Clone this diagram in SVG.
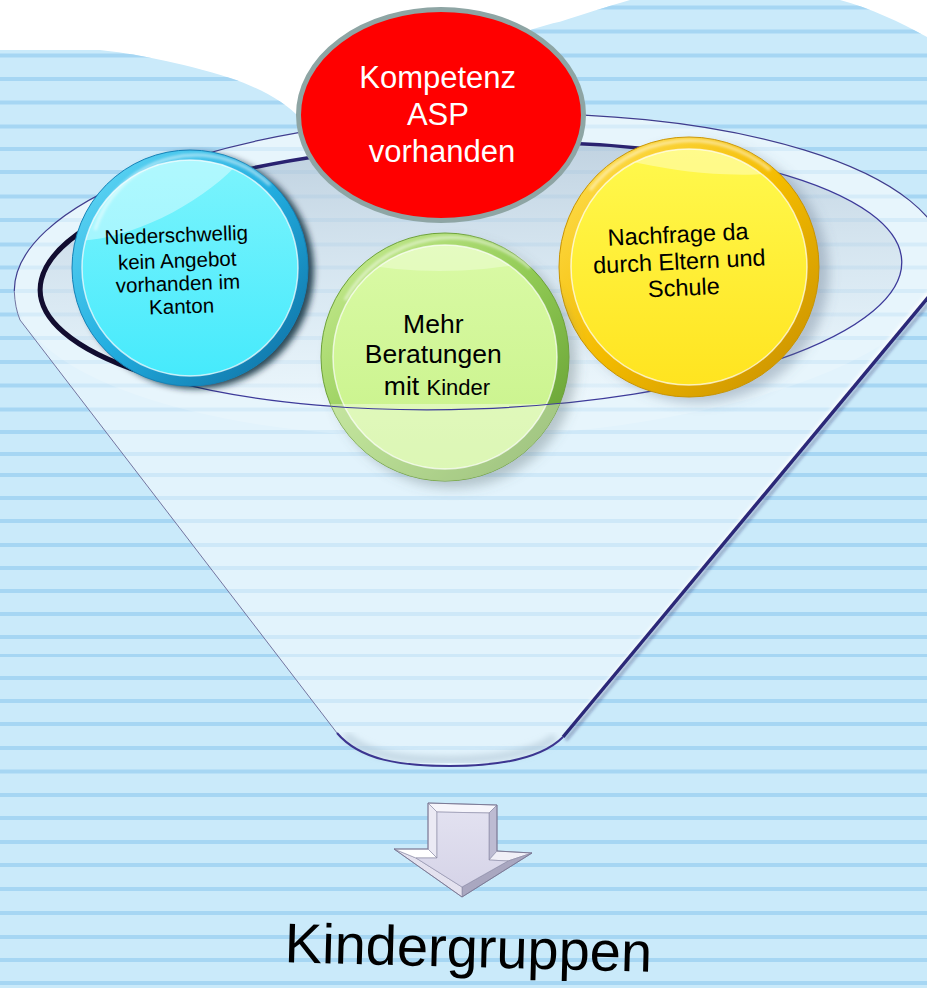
<svg xmlns="http://www.w3.org/2000/svg" width="927" height="988" viewBox="0 0 927 988">
<style>
  .stripe { fill: #a6d6f3; }
  .lbl { font-family: "Liberation Sans", Arial, sans-serif; text-anchor: middle; fill: #000; }
  .white { fill: #fff; }
  .gloss { fill: #fff; }
</style>
<defs>
  <clipPath id="sky">
    <path d="M0,50 L100,50 C130,53 180,62 230,78 C260,88 285,102 300,118 L480,118 L505,40 C520,33 540,26 560,21.7 C585,14 605,7 630,0 L840,0 C870,8 900,22 927,37 L927,988 L0,988 Z"/>
  </clipPath>
  <filter id="soft" x="-20%" y="-20%" width="140%" height="140%"><feGaussianBlur stdDeviation="3"/></filter>
  <filter id="soft6" x="-20%" y="-20%" width="140%" height="140%"><feGaussianBlur stdDeviation="6"/></filter>
  <filter id="soft2" x="-10%" y="-10%" width="120%" height="120%"><feGaussianBlur stdDeviation="1.5"/></filter>
  <filter id="soft3" x="-10%" y="-10%" width="120%" height="120%"><feGaussianBlur stdDeviation="3"/></filter>

  <linearGradient id="innerFill" x1="0" y1="0" x2="0" y2="1">
    <stop offset="0" stop-color="#8fa6be" stop-opacity="0.45"/>
    <stop offset="0.6" stop-color="#b8cadb" stop-opacity="0.25"/>
    <stop offset="1" stop-color="#ffffff" stop-opacity="0.25"/>
  </linearGradient>

  <linearGradient id="ringCyan" x1="0" y1="0" x2="1" y2="1">
    <stop offset="0" stop-color="#6adcf7"/>
    <stop offset="0.5" stop-color="#22aee0"/>
    <stop offset="1" stop-color="#0c6a9e"/>
  </linearGradient>
  <linearGradient id="faceCyan" x1="0" y1="0" x2="0" y2="1">
    <stop offset="0" stop-color="#7cf4fd"/>
    <stop offset="1" stop-color="#46eafc"/>
  </linearGradient>

  <linearGradient id="ringYellow" x1="0" y1="0" x2="1" y2="1">
    <stop offset="0" stop-color="#ffe25a"/>
    <stop offset="0.5" stop-color="#f4bc00"/>
    <stop offset="1" stop-color="#c48c00"/>
  </linearGradient>
  <linearGradient id="faceYellow" x1="0" y1="0" x2="0" y2="1">
    <stop offset="0" stop-color="#fff94e"/>
    <stop offset="1" stop-color="#ffe420"/>
  </linearGradient>

  <linearGradient id="ringGreen" x1="0" y1="0" x2="1" y2="1">
    <stop offset="0" stop-color="#cdef98"/>
    <stop offset="0.5" stop-color="#92cb55"/>
    <stop offset="1" stop-color="#5c962c"/>
  </linearGradient>
  <linearGradient id="faceGreen" x1="0" y1="0" x2="0" y2="1">
    <stop offset="0" stop-color="#dafaa6"/>
    <stop offset="1" stop-color="#c7f288"/>
  </linearGradient>

  <linearGradient id="arrowFace" x1="0" y1="0" x2="0" y2="1">
    <stop offset="0" stop-color="#e2e1f0"/>
    <stop offset="1" stop-color="#d6d4e8"/>
  </linearGradient>

  <clipPath id="faceC"><circle cx="190" cy="268" r="108"/></clipPath>
  <clipPath id="faceY"><circle cx="689" cy="267" r="118"/></clipPath>
  <clipPath id="faceG"><circle cx="445" cy="357" r="112"/></clipPath>
  <clipPath id="ballG"><circle cx="445" cy="357" r="124"/></clipPath>
</defs>

<!-- striped backdrop -->
<rect width="927" height="988" fill="#fff"/>
<g id="backdrop" clip-path="url(#sky)">
  <rect width="927" height="988" fill="#caeafa"/>
  <g class="stripe">
    <rect x="0" y="5.5" width="927" height="4"/>
    <rect x="0" y="29.5" width="927" height="4"/>
    <rect x="0" y="53.5" width="927" height="4"/>
    <rect x="0" y="77" width="927" height="4"/>
    <rect x="0" y="100.5" width="927" height="4"/>
    <rect x="0" y="124.5" width="927" height="4"/>
    <rect x="0" y="147" width="927" height="4"/>
    <rect x="0" y="170" width="927" height="4"/>
    <rect x="0" y="194.5" width="927" height="4"/>
    <rect x="0" y="218" width="927" height="4"/>
    <rect x="0" y="242.5" width="927" height="4"/>
    <rect x="0" y="265.5" width="927" height="4"/>
    <rect x="0" y="289" width="927" height="4"/>
    <rect x="0" y="312.5" width="927" height="4"/>
    <rect x="0" y="336" width="927" height="4"/>
    <rect x="0" y="360" width="927" height="4"/>
    <rect x="0" y="383.5" width="927" height="4"/>
    <rect x="0" y="407.5" width="927" height="4"/>
    <rect x="0" y="430" width="927" height="4"/>
    <rect x="0" y="452" width="927" height="4"/>
    <rect x="0" y="473" width="927" height="4"/>
    <rect x="0" y="496" width="927" height="4"/>
    <rect x="0" y="519" width="927" height="4"/>
    <rect x="0" y="543" width="927" height="4"/>
    <rect x="0" y="566" width="927" height="4"/>
    <rect x="0" y="589" width="927" height="4"/>
    <rect x="0" y="612" width="927" height="4"/>
    <rect x="0" y="635" width="927" height="4"/>
    <rect x="0" y="654" width="927" height="3"/>
    <rect x="0" y="676" width="927" height="4"/>
    <rect x="0" y="699" width="927" height="4"/>
    <rect x="0" y="722" width="927" height="4"/>
    <rect x="0" y="746" width="927" height="4"/>
    <rect x="0" y="769.5" width="927" height="4"/>
    <rect x="0" y="793" width="927" height="4"/>
    <rect x="0" y="816" width="927" height="4"/>
    <rect x="0" y="840" width="927" height="4"/>
    <rect x="0" y="863" width="927" height="4"/>
    <rect x="0" y="887" width="927" height="4"/>
    <rect x="0" y="911" width="927" height="4"/>
    <rect x="0" y="935" width="927" height="4"/>
    <rect x="0" y="958" width="927" height="4"/>
    <rect x="0" y="981" width="927" height="4"/>
  </g>
</g>

<!-- funnel body, rim and inner opening -->
<g id="funnel">
  <path d="M14.3,291.3 A466,162 -2 0 1 945.7,258.7 L955,265 L563,737 C545,755 510,766 450,766 C400,766 360,760 337,733 L20,320 Q15,308 14.3,291.3 Z" fill="#fff" fill-opacity="0.45"/>
  <ellipse cx="480" cy="275" rx="466" ry="162" transform="rotate(-2 480 275)" fill="#fff" fill-opacity="0.18"/>
  <!-- inner shading near the base -->
  <path d="M345,735 C370,757 405,760 450,760 C505,760 540,750 555,737" fill="none" stroke="#9fb5c8" stroke-width="8" stroke-opacity="0.45" filter="url(#soft3)"/>
  <path d="M930,292 L575,722" fill="none" stroke="#fff" stroke-width="5" stroke-opacity="0.75" filter="url(#soft2)"/>
  <!-- outlines -->
  <path d="M14.3,291.3 A466,162 -2 0 1 945.7,258.7" fill="none" stroke="#3f3d8e" stroke-width="1.2"/>
  <path d="M14.3,291.3 Q15,308 20,320 L337,733" fill="none" stroke="#7375a0" stroke-width="1"/>
  <path d="M337,733 C360,760 400,766 450,766 C510,766 545,755 563,737" fill="none" stroke="#3c3590" stroke-width="2"/>
  <path d="M566,740 L958,268" fill="none" stroke="#1e1a5a" stroke-width="3" stroke-opacity="0.35" filter="url(#soft2)"/>
  <path d="M563,737 L955,265" fill="none" stroke="#2b2878" stroke-width="3.5"/>
  <!-- inner opening -->
  <g transform="rotate(-2 471 276)">
    <ellipse cx="471" cy="276" rx="431" ry="133" fill="url(#innerFill)" stroke="#3d3a9a" stroke-width="1.3"/>
    <path d="M97.7,342.5 A431,133 0 0 1 686.5,160.8" fill="none" stroke="#2a2270" stroke-width="3.5"/>
    <path d="M140.8,361.5 A431,133 0 0 1 193.9,174.1" fill="none" stroke="#120d30" stroke-width="5"/>
  </g>
</g>

<!-- Niederschwellig -->
<g id="node-niederschwellig">
  <circle cx="196" cy="271" r="118" fill="#06202e" fill-opacity="0.8" filter="url(#soft)"/>
  <circle cx="190" cy="268" r="118" fill="url(#ringCyan)" stroke="#1583b8" stroke-width="1"/>
  <circle cx="190" cy="268" r="108" fill="url(#faceCyan)"/>
  <g clip-path="url(#faceC)">
    <ellipse cx="150" cy="170" rx="120" ry="48" transform="rotate(-28 150 170)" class="gloss" fill-opacity="0.4"/>
  </g>
  <circle cx="190" cy="268" r="108" fill="none" stroke="#fff" stroke-opacity="0.7" stroke-width="1.5"/>
  <path d="M95,230 A106,106 0 0 1 270,185" fill="none" stroke="#fff" stroke-opacity="0.55" stroke-width="3" filter="url(#soft2)"/>
  <g transform="rotate(-2 180 275)">
    <text class="lbl" font-size="20.5">
      <tspan x="180.5" y="242">Niederschwellig</tspan>
      <tspan x="180.5" y="267.5">kein Angebot</tspan>
      <tspan x="180.5" y="290.5">vorhanden im</tspan>
      <tspan x="180.5" y="313.5">Kanton</tspan>
    </text>
  </g>
</g>

<!-- Nachfrage -->
<g id="node-nachfrage">
  <circle cx="699" cy="273" r="130" fill="#5a6a80" fill-opacity="0.35" filter="url(#soft6)"/>
  <circle cx="689" cy="267" r="130" fill="url(#ringYellow)" stroke="#c99400" stroke-width="1"/>
  <circle cx="689" cy="267" r="118" fill="url(#faceYellow)"/>
  <g clip-path="url(#faceY)">
    <ellipse cx="680" cy="140" rx="130" ry="30" transform="rotate(8 680 140)" class="gloss" fill-opacity="0.35"/>
  </g>
  <circle cx="689" cy="267" r="118" fill="none" stroke="#fff" stroke-opacity="0.7" stroke-width="1.5"/>
  <path d="M590,190 A125,125 0 0 1 770,170" fill="none" stroke="#fff" stroke-opacity="0.55" stroke-width="3" filter="url(#soft2)"/>
  <g transform="rotate(-2.7 683 270)">
    <text class="lbl" font-size="23.5">
      <tspan x="683" y="242.3">Nachfrage da</tspan>
      <tspan x="683" y="269.3">durch Eltern und</tspan>
      <tspan x="683" y="295.7">Schule</tspan>
    </text>
  </g>
</g>

<!-- Mehr Beratungen -->
<g id="node-beratungen">
  <circle cx="453" cy="364" r="124" fill="#5a6a70" fill-opacity="0.35" filter="url(#soft6)"/>
  <circle cx="445" cy="357" r="124" fill="url(#ringGreen)" stroke="#6ea23a" stroke-width="1"/>
  <circle cx="445" cy="357" r="112" fill="url(#faceGreen)"/>
  <g clip-path="url(#faceG)">
    <ellipse cx="440" cy="245" rx="115" ry="26" class="gloss" fill-opacity="0.3"/>
  </g>
  <circle cx="445" cy="357" r="112" fill="none" stroke="#fff" stroke-opacity="0.7" stroke-width="1.5"/>
  <path d="M345,300 A120,120 0 0 1 530,268" fill="none" stroke="#fff" stroke-opacity="0.55" stroke-width="3" filter="url(#soft2)"/>
  <!-- front wall of the funnel passing over the lower part -->
  <g clip-path="url(#ballG)">
    <path fill="#fff" fill-opacity="0.38" d="M300,404 L600,404 L600,500 L300,500 Z"/>
    <g transform="rotate(-2 471 276)">
      <ellipse cx="471" cy="276" rx="431" ry="133" fill="none" stroke="#3d3a9a" stroke-width="1.2"/>
    </g>
  </g>
  <text class="lbl" font-size="26.5">
    <tspan x="437" y="333">Mehr</tspan>
    <tspan x="437" y="363">Beratungen</tspan>
    <tspan x="437" y="395">mit <tspan font-size="22">Kinder</tspan></tspan>
  </text>
</g>

<!-- Kompetenz ASP -->
<g id="node-kompetenz">
  <ellipse cx="441" cy="115" rx="142.5" ry="105.5" fill="#ff0000" stroke="#8ea5a4" stroke-width="5"/>
  <text class="lbl white" font-size="31">
    <tspan x="442" y="88">Kompetenz</tspan>
    <tspan x="442" y="125">ASP</tspan>
    <tspan x="442" y="162">vorhanden</tspan>
  </text>
</g>

<!-- block arrow from funnel outlet to result -->
<g id="connectors">
  <g stroke="#8c8aa4" stroke-width="0.6" stroke-linejoin="round">
    <polygon points="428,803 497,805 489,813 437,812" fill="#f6f5fb"/>
    <polygon points="497,805 497,851 489,860 489,813" fill="#bdbbd2"/>
    <polygon points="497,851 532,853 508,861 489,860" fill="#f0eff7"/>
    <polygon points="532,853 462,897 462,887 508,861" fill="#a9a7c0"/>
    <polygon points="462,897 394,849 416,858 462,887" fill="#e4e2ef"/>
    <polygon points="394,849 428,849 437,858 416,858" fill="#ffffff"/>
    <polygon points="428,849 428,803 437,812 437,858" fill="#ebeaf4"/>
    <polygon points="437,812 489,813 489,860 508,861 462,887 416,858 437,858" fill="url(#arrowFace)"/>
  </g>
  <polygon points="428,803 497,805 497,851 532,853 462,897 394,849 428,849" fill="none" stroke="#7c7a96" stroke-width="1"/>
</g>

<!-- outcome -->
<g id="node-kindergruppen">
  <text class="lbl" font-size="56" transform="rotate(1.5 468 967)" x="468" y="967">Kindergruppen</text>
</g>
</svg>
